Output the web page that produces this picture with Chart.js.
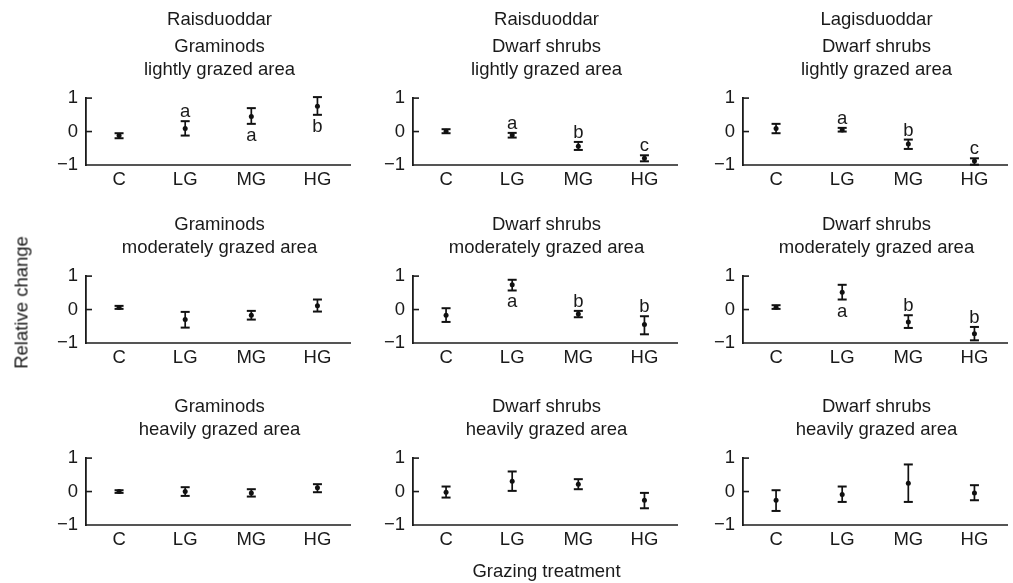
<!DOCTYPE html>
<html>
<head>
<meta charset="utf-8">
<script src="https://cdn.jsdelivr.net/npm/chart.js@4"></script>
<style>
body { margin: 0; background: #fff; font-family: "Liberation Sans", Arial, sans-serif; color: #1a1a1a; }
#wrap { position: relative; width: 1013px; height: 583px; overflow: hidden; }
#wrap canvas { position: absolute; }
.lbl { position: absolute; font-size: 18.5px; line-height: 23px; text-align: center; white-space: nowrap; }
</style>
</head>
<body>
<div id="wrap"></div>
<script>
// Data
const categories = ['C', 'LG', 'MG', 'HG'];
const sites = ['Raisduoddar', 'Raisduoddar', 'Lagisduoddar'];
const groups = ['Graminods', 'Dwarf shrubs', 'Dwarf shrubs'];
const areas = ['lightly grazed area', 'moderately grazed area', 'heavily grazed area'];
const yTicks = [-1, 0, 1];

// panels row by row, left to right
const means = [
    [-0.12, 0.09, 0.45, 0.76],
    [0.01, -0.10, -0.44, -0.80],
    [0.09, 0.05, -0.37, -0.88],
    [0.06, -0.30, -0.17, 0.11],
    [-0.17, 0.74, -0.13, -0.45],
    [0.07, 0.52, -0.37, -0.72],
    [0.00, 0.00, -0.04, 0.11],
    [-0.02, 0.31, 0.22, -0.26],
    [-0.26, -0.09, 0.25, -0.04]
];
const lower = [
    [-0.20, -0.12, 0.23, 0.50],
    [-0.05, -0.18, -0.55, -0.89],
    [-0.05, 0.00, -0.52, -0.99],
    [0.02, -0.54, -0.30, -0.06],
    [-0.37, 0.57, -0.23, -0.74],
    [0.02, 0.30, -0.55, -0.92],
    [-0.04, -0.13, -0.15, -0.02],
    [-0.18, 0.02, 0.07, -0.50],
    [-0.58, -0.31, -0.31, -0.26]
];
const upper = [
    [-0.05, 0.31, 0.70, 1.03],
    [0.07, -0.04, -0.31, -0.71],
    [0.23, 0.11, -0.24, -0.80],
    [0.11, -0.07, -0.04, 0.30],
    [0.04, 0.89, -0.04, -0.20],
    [0.13, 0.74, -0.17, -0.52],
    [0.04, 0.13, 0.07, 0.22],
    [0.15, 0.60, 0.37, -0.04],
    [0.04, 0.15, 0.81, 0.19]
];
const letters = [
    ['', 'a', 'a', 'b'],
    ['', 'a', 'b', 'c'],
    ['', 'a', 'b', 'c'],
    ['', '', '', ''],
    ['', 'a', 'b', 'b'],
    ['', 'a', 'b', 'b'],
    ['', '', '', ''],
    ['', '', '', ''],
    ['', '', '', '']
];
const letterSide = [
    ['', 'above', 'below', 'below'],
    ['', 'above', 'above', 'above'],
    ['', 'above', 'above', 'above'],
    ['', '', '', ''],
    ['', 'below', 'above', 'above'],
    ['', 'below', 'above', 'above'],
    ['', '', '', ''],
    ['', '', '', ''],
    ['', '', '', '']
];

// Layout
const colLeft = [86, 413, 743];
const rowTop = [89, 267, 449];
const plotW = 267, plotH = 76;
const padL = 50, padT = 10, padR = 4, axisH = 36;
const FONT = '"Liberation Sans", Arial, sans-serif';

const wrap = document.getElementById('wrap');

function addLabel(html, cx, top, extra) {
    const d = document.createElement('div');
    d.className = 'lbl';
    d.innerHTML = html;
    d.style.left = (cx - 200) + 'px';
    d.style.width = '400px';
    d.style.top = top + 'px';
    if (extra) Object.assign(d.style, extra);
    wrap.appendChild(d);
}

// inward ticks + significance letters
const extras = {
    id: 'extras',
    afterDatasetsDraw(chart, args, opts) {
        const {ctx, chartArea} = chart;
        const x = chart.scales.x, y = chart.scales.y;
        ctx.save();
        ctx.strokeStyle = '#1a1a1a';
        ctx.lineWidth = 1.6;
        yTicks.forEach(v => {
            if (v === -1) return;
            const py = y.getPixelForValue(v);
            ctx.beginPath();
            ctx.moveTo(chartArea.left, py);
            ctx.lineTo(chartArea.left + 6, py);
            ctx.stroke();
        });
        const p = opts.panel;
        ctx.fillStyle = '#1a1a1a';
        ctx.font = '18.5px ' + FONT;
        ctx.textAlign = 'center';
        ctx.textBaseline = 'alphabetic';
        letters[p].forEach((l, i) => {
            if (!l) return;
            const px = x.getPixelForValue(i);
            const py = letterSide[p][i] === 'above'
                ? y.getPixelForValue(upper[p][i]) - 4
                : y.getPixelForValue(lower[p][i]) + 17;
            ctx.fillText(l, px, py);
        });
        ctx.restore();
    }
};

function makePanel(p) {
    const r = Math.floor(p / 3), c = p % 3;
    const canvas = document.createElement('canvas');
    const w = padL + plotW + padR, h = padT + plotH + axisH;
    canvas.width = w;
    canvas.height = h;
    canvas.style.left = (colLeft[c] - padL) + 'px';
    canvas.style.top = (rowTop[r] - padT) + 'px';
    wrap.appendChild(canvas);

    // error bars: two capped points per category, broken by nulls
    const barData = [];
    categories.forEach((cat, i) => {
        barData.push({x: cat, y: lower[p][i]});
        barData.push({x: cat, y: upper[p][i]});
        barData.push({x: cat, y: null});
    });
    const meanData = categories.map((cat, i) => ({x: cat, y: means[p][i]}));

    new Chart(canvas, {
        type: 'line',
        data: {
            labels: categories,
            datasets: [{
                data: barData,
                borderColor: '#111',
                borderWidth: 1.7,
                spanGaps: false,
                pointStyle: 'line',
                pointRadius: 4.5,
                pointBorderColor: '#111',
                pointBorderWidth: 2,
                clip: false
            }, {
                data: meanData,
                showLine: false,
                pointStyle: 'circle',
                pointRadius: 2.5,
                pointBackgroundColor: '#111',
                pointBorderWidth: 0,
                clip: false
            }]
        },
        options: {
            responsive: false,
            animation: false,
            layout: {padding: {top: padT, right: padR, left: 0, bottom: 0}},
            plugins: {
                legend: {display: false},
                tooltip: {enabled: false},
                extras: {panel: p}
            },
            scales: {
                x: {
                    type: 'category',
                    offset: true,
                    grid: {display: true, drawOnChartArea: false, drawTicks: false},
                    border: {color: '#555', width: 2},
                    ticks: {color: '#1a1a1a', font: {size: 18.5, family: FONT}, padding: 4, maxRotation: 0},
                    afterFit(s) { s.height = axisH; }
                },
                y: {
                    min: -1,
                    max: 1,
                    grid: {display: true, drawOnChartArea: false, drawTicks: false},
                    border: {color: '#1a1a1a', width: 1.8},
                    afterBuildTicks(s) { s.ticks = yTicks.map(v => ({value: v})); },
                    ticks: {
                        color: '#1a1a1a',
                        font: {size: 18.5, family: FONT},
                        padding: 8,
                        callback: v => (v < 0 ? '\u2212' + Math.abs(v) : String(v))
                    },
                    afterFit(s) { s.width = padL; }
                }
            }
        },
        plugins: [extras]
    });

    const cx = colLeft[c] + plotW / 2;
    addLabel(groups[c] + '<br>' + areas[r], cx, rowTop[r] - 55.5);
}

for (let p = 0; p < 9; p++) makePanel(p);

// site headers and axis titles
sites.forEach((s, c) => addLabel(s, colLeft[c] + plotW / 2, 6.5));
addLabel('Grazing treatment', colLeft[1] + plotW / 2, 558.5);
addLabel('Relative change', 21, 290.5, {transform: 'rotate(-90deg)'});
</script>
</body>
</html>
